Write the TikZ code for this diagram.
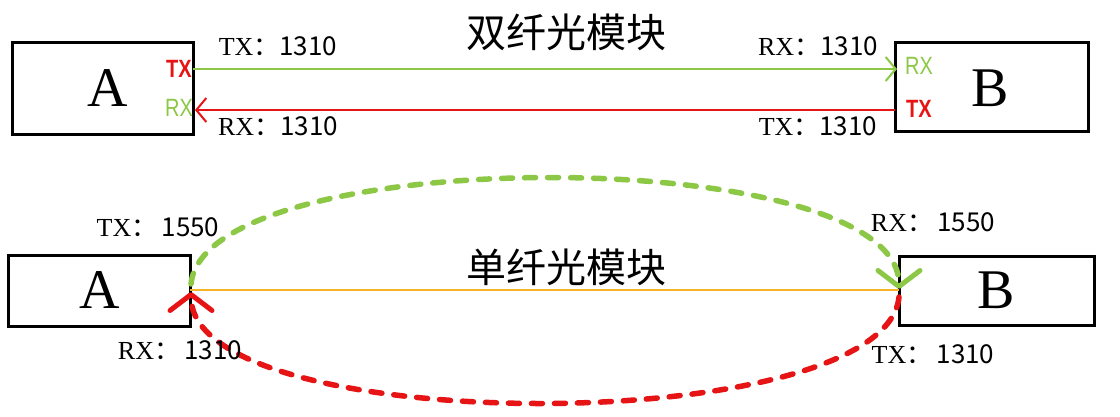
\documentclass[tikz,border=0pt]{standalone}
\usepackage{fontspec}
\setmainfont{Liberation Serif}
\newfontfamily\cjk{Noto Sans CJK SC}
\newfontfamily\narrow[FakeStretch=0.8]{Liberation Sans}
\usetikzlibrary{arrows.meta}
\definecolor{fgreen}{RGB}{140,200,70}
\definecolor{fred}{RGB}{230,20,20}
\definecolor{forange}{RGB}{245,180,40}
\begin{document}
\begin{tikzpicture}[x=1pt,y=-1pt,
 box/.style={draw=black,line width=3pt},
 lbl/.style={font=\fontsize{26}{26}\selectfont},
 big/.style={font=\fontsize{56}{56}\selectfont},
 port/.style={font=\narrow\fontsize{25}{25}\selectfont},
 portb/.style={font=\narrow\bfseries\fontsize{25}{25}\selectfont},
 ttl/.style={font=\cjk\fontsize{40}{40}\selectfont},
 tbarb/.style={-{Straight Barb[length=10pt,width=24pt,line width=2pt]}},
 barb/.style={-{Straight Barb[length=16pt,width=42pt,line width=5pt,round]}},
 fib/.style={line width=5.5pt,line cap=round,dash pattern=on 11pt off 12pt,barb}]
\useasboundingbox[fill=white] (0,0) rectangle (1120,416);
% top
\draw[box] (12,42) rectangle (193,134);
\node[big] (A1) at (108,88) {A};
\draw[box] (895,42) rectangle (1088,131);
\node[big] (B1) at (990,88) {B};
\coordinate (a1t) at (193,69); \coordinate (b1t) at (897,69);
\coordinate (a1r) at (195,110); \coordinate (b1r) at (895,110);
\draw[fgreen,line width=2.2pt,tbarb] (a1t) -- (b1t);
\draw[fred,line width=2.2pt,tbarb] (b1r) -- (a1r);
\node[portb,text=fred] (atx) at (179,69) {TX};
\node[port,text=fgreen] (arx) at (179,108) {RX};
\node[port,text=fgreen] (brx) at (919,66) {RX};
\node[portb,text=fred] (btx) at (919,109) {TX};
\node[lbl] (l1) at (278,46) {TX\cjk{：}1310};
\node[lbl] (l2) at (278,126) {RX\cjk{：}1310};
\node[lbl] (l3) at (818,46) {RX\cjk{：}1310};
\node[lbl] (l4) at (818,126) {TX\cjk{：}1310};
\node[ttl] (t1) at (566,32) {双纤光模块};
% bottom
\draw[box] (8,255) rectangle (190,326);
\node[big] (A2) at (100,290) {A};
\draw[box] (899,256) rectangle (1094,325);
\node[big] (B2) at (996,290) {B};
\coordinate (a2) at (190,290); \coordinate (b2) at (899,290);
\draw[forange,line width=2pt] (a2) -- (b2);
\coordinate (a2g) at (191,284); \coordinate (b2g) at (899,289);
\coordinate (a2r) at (191,292); \coordinate (b2r) at (899,297);
\draw[fgreen,fib] (a2g) .. controls (205,142) and (899,142) .. (b2g);
\draw[fred,fib] (b2r) .. controls (885,439) and (191,439) .. (a2r);
\node[ttl] (t2) at (566,267) {单纤光模块};
\node[lbl] (l5) at (158,227) {TX\cjk{：}\,1550};
\node[lbl] (l6) at (180,350) {RX\cjk{：}\,1310};
\node[lbl] (l7) at (933,222) {RX\cjk{：}\,1550};
\node[lbl] (l8) at (933,354) {TX\cjk{：}\,1310};
\end{tikzpicture}
\end{document}
